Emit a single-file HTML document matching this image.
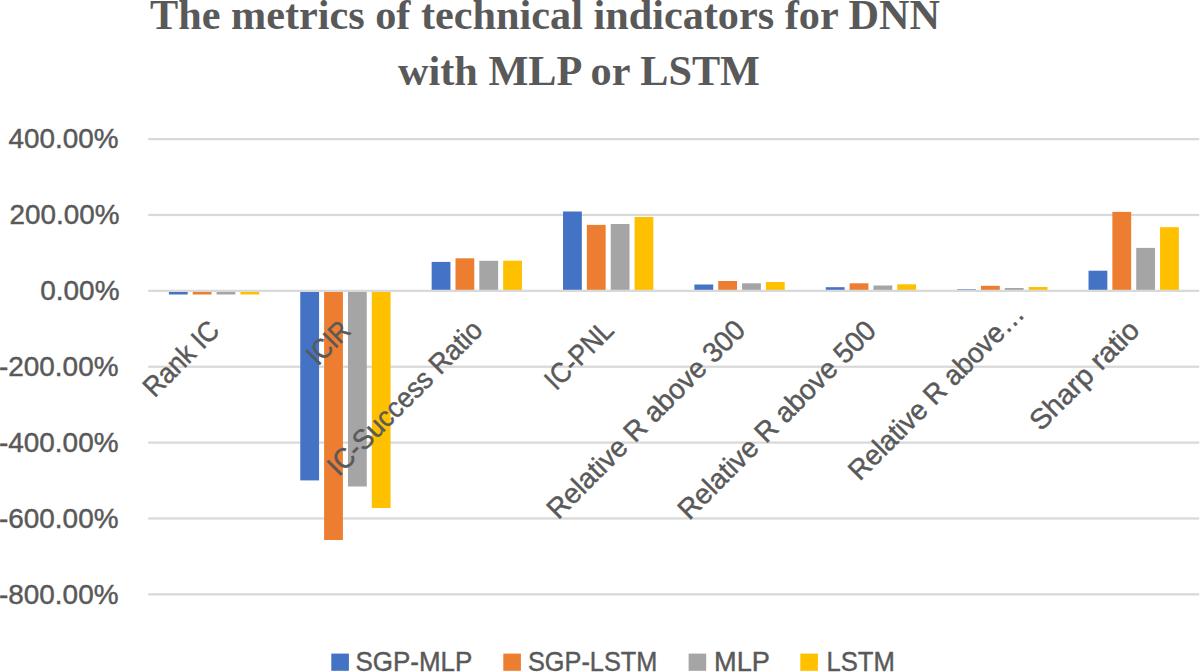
<!DOCTYPE html><html><head><meta charset="utf-8"><style>html,body{margin:0;padding:0;background:#fff;}svg{display:block;}</style></head><body>
<svg width="1200" height="672" viewBox="0 0 1200 672">
<rect x="0" y="0" width="1200" height="672" fill="#fff"/>
<text x="150" y="29" font-family="Liberation Serif, serif" font-weight="bold" font-size="42.3" fill="#595959" textLength="790" lengthAdjust="spacingAndGlyphs">The metrics of technical indicators for DNN</text>
<text x="398" y="84.7" font-family="Liberation Serif, serif" font-weight="bold" font-size="42.3" fill="#595959" textLength="362" lengthAdjust="spacingAndGlyphs">with MLP or LSTM</text>
<rect x="148.2" y="138.00" width="1051.00" height="2.25" fill="#D9D9D9"/>
<rect x="148.2" y="213.87" width="1051.00" height="2.25" fill="#D9D9D9"/>
<rect x="148.2" y="365.61" width="1051.00" height="2.25" fill="#D9D9D9"/>
<rect x="148.2" y="441.48" width="1051.00" height="2.25" fill="#D9D9D9"/>
<rect x="148.2" y="517.35" width="1051.00" height="2.25" fill="#D9D9D9"/>
<rect x="148.2" y="593.22" width="1051.00" height="2.25" fill="#D9D9D9"/>
<rect x="168.90" y="291.00" width="18.8" height="3.50" fill="#4472C4"/>
<rect x="192.74" y="291.00" width="18.8" height="3.50" fill="#ED7D31"/>
<rect x="216.58" y="291.00" width="18.8" height="3.50" fill="#A5A5A5"/>
<rect x="240.42" y="291.00" width="18.8" height="3.50" fill="#FFC000"/>
<rect x="300.27" y="291.00" width="18.8" height="189.40" fill="#4472C4"/>
<rect x="324.11" y="291.00" width="18.8" height="249.00" fill="#ED7D31"/>
<rect x="347.95" y="291.00" width="18.8" height="195.50" fill="#A5A5A5"/>
<rect x="371.79" y="291.00" width="18.8" height="217.00" fill="#FFC000"/>
<rect x="431.65" y="261.90" width="18.8" height="29.10" fill="#4472C4"/>
<rect x="455.49" y="258.30" width="18.8" height="32.70" fill="#ED7D31"/>
<rect x="479.33" y="260.80" width="18.8" height="30.20" fill="#A5A5A5"/>
<rect x="503.17" y="260.70" width="18.8" height="30.30" fill="#FFC000"/>
<rect x="563.03" y="211.50" width="18.8" height="79.50" fill="#4472C4"/>
<rect x="586.87" y="224.90" width="18.8" height="66.10" fill="#ED7D31"/>
<rect x="610.71" y="224.00" width="18.8" height="67.00" fill="#A5A5A5"/>
<rect x="634.55" y="217.00" width="18.8" height="74.00" fill="#FFC000"/>
<rect x="694.40" y="284.50" width="18.8" height="6.50" fill="#4472C4"/>
<rect x="718.24" y="281.00" width="18.8" height="10.00" fill="#ED7D31"/>
<rect x="742.08" y="283.30" width="18.8" height="7.70" fill="#A5A5A5"/>
<rect x="765.92" y="282.00" width="18.8" height="9.00" fill="#FFC000"/>
<rect x="825.78" y="287.20" width="18.8" height="3.80" fill="#4472C4"/>
<rect x="849.62" y="283.30" width="18.8" height="7.70" fill="#ED7D31"/>
<rect x="873.46" y="285.50" width="18.8" height="5.50" fill="#A5A5A5"/>
<rect x="897.30" y="284.30" width="18.8" height="6.70" fill="#FFC000"/>
<rect x="957.15" y="289.30" width="18.8" height="1.70" fill="#4472C4"/>
<rect x="980.99" y="285.80" width="18.8" height="5.20" fill="#ED7D31"/>
<rect x="1004.83" y="288.00" width="18.8" height="3.00" fill="#A5A5A5"/>
<rect x="1028.67" y="287.00" width="18.8" height="4.00" fill="#FFC000"/>
<rect x="1088.53" y="270.70" width="18.8" height="20.30" fill="#4472C4"/>
<rect x="1112.37" y="211.90" width="18.8" height="79.10" fill="#ED7D31"/>
<rect x="1136.21" y="247.90" width="18.8" height="43.10" fill="#A5A5A5"/>
<rect x="1160.05" y="227.20" width="18.8" height="63.80" fill="#FFC000"/>
<rect x="148.2" y="289.74" width="1051.00" height="2.25" fill="#D9D9D9"/>
<text x="8.50" y="148.10" font-family="Liberation Sans, sans-serif" font-size="28.3" fill="#595959" stroke="#595959" stroke-width="0.45" textLength="109.98" lengthAdjust="spacingAndGlyphs">400.00%</text>
<text x="9.50" y="224.10" font-family="Liberation Sans, sans-serif" font-size="28.3" fill="#595959" stroke="#595959" stroke-width="0.45" textLength="109.97" lengthAdjust="spacingAndGlyphs">200.00%</text>
<text x="40.25" y="300.20" font-family="Liberation Sans, sans-serif" font-size="28.3" fill="#595959" stroke="#595959" stroke-width="0.45" textLength="79.24" lengthAdjust="spacingAndGlyphs">0.00%</text>
<text x="-1.00" y="375.90" font-family="Liberation Sans, sans-serif" font-size="28.3" fill="#595959" stroke="#595959" stroke-width="0.45" textLength="119.48" lengthAdjust="spacingAndGlyphs">-200.00%</text>
<text x="-1.00" y="452.00" font-family="Liberation Sans, sans-serif" font-size="28.3" fill="#595959" stroke="#595959" stroke-width="0.45" textLength="119.48" lengthAdjust="spacingAndGlyphs">-400.00%</text>
<text x="-1.00" y="527.70" font-family="Liberation Sans, sans-serif" font-size="28.3" fill="#595959" stroke="#595959" stroke-width="0.45" textLength="119.48" lengthAdjust="spacingAndGlyphs">-600.00%</text>
<text x="-1.00" y="603.50" font-family="Liberation Sans, sans-serif" font-size="28.3" fill="#595959" stroke="#595959" stroke-width="0.45" textLength="119.48" lengthAdjust="spacingAndGlyphs">-800.00%</text>
<text transform="translate(154.59,398.59) rotate(-45)" font-family="Liberation Sans, sans-serif" font-size="28.3" fill="#595959" stroke="#595959" stroke-width="0.45" textLength="94.04" lengthAdjust="spacingAndGlyphs">Rank IC</text>
<text transform="translate(318.03,366.53) rotate(-45)" font-family="Liberation Sans, sans-serif" font-size="28.3" fill="#595959" stroke="#595959" stroke-width="0.45" textLength="48.34" lengthAdjust="spacingAndGlyphs">ICIR</text>
<text transform="translate(338.72,477.22) rotate(-45)" font-family="Liberation Sans, sans-serif" font-size="28.3" fill="#595959" stroke="#595959" stroke-width="0.45" textLength="205.65" lengthAdjust="spacingAndGlyphs">IC-Success Ratio</text>
<text transform="translate(555.91,391.41) rotate(-45)" font-family="Liberation Sans, sans-serif" font-size="28.3" fill="#595959" stroke="#595959" stroke-width="0.45" textLength="84.16" lengthAdjust="spacingAndGlyphs">IC-PNL</text>
<text transform="translate(558.22,520.47) rotate(-45)" font-family="Liberation Sans, sans-serif" font-size="28.3" fill="#595959" stroke="#595959" stroke-width="0.45" textLength="266.99" lengthAdjust="spacingAndGlyphs">Relative R above 300</text>
<text transform="translate(689.16,520.91) rotate(-45)" font-family="Liberation Sans, sans-serif" font-size="28.3" fill="#595959" stroke="#595959" stroke-width="0.45" textLength="266.84" lengthAdjust="spacingAndGlyphs">Relative R above 500</text>
<text transform="translate(859.72,481.72) rotate(-45)" font-family="Liberation Sans, sans-serif" font-size="28.3" fill="#595959" stroke="#595959" stroke-width="0.45" textLength="235.26" lengthAdjust="spacingAndGlyphs">Relative R above…</text>
<text transform="translate(1040.91,431.91) rotate(-45)" font-family="Liberation Sans, sans-serif" font-size="28.3" fill="#595959" stroke="#595959" stroke-width="0.45" textLength="141.58" lengthAdjust="spacingAndGlyphs">Sharp ratio</text>
<rect x="331.3" y="653.6" width="17.6" height="17.2" fill="#4472C4"/>
<text x="355.50" y="670.50" font-family="Liberation Sans, sans-serif" font-size="28.3" fill="#595959" stroke="#595959" stroke-width="0.45" textLength="116.84" lengthAdjust="spacingAndGlyphs">SGP-MLP</text>
<rect x="503.3" y="653.6" width="17.6" height="17.2" fill="#ED7D31"/>
<text x="528.00" y="670.50" font-family="Liberation Sans, sans-serif" font-size="28.3" fill="#595959" stroke="#595959" stroke-width="0.45" textLength="129.29" lengthAdjust="spacingAndGlyphs">SGP-LSTM</text>
<rect x="688.6" y="653.6" width="17.6" height="17.2" fill="#A5A5A5"/>
<text x="714.00" y="670.60" font-family="Liberation Sans, sans-serif" font-size="28.3" fill="#595959" stroke="#595959" stroke-width="0.45" textLength="55.94" lengthAdjust="spacingAndGlyphs">MLP</text>
<rect x="800.3" y="653.6" width="17.6" height="17.2" fill="#FFC000"/>
<text x="826.50" y="670.60" font-family="Liberation Sans, sans-serif" font-size="28.3" fill="#595959" stroke="#595959" stroke-width="0.45" textLength="68.37" lengthAdjust="spacingAndGlyphs">LSTM</text>
</svg></body></html>
